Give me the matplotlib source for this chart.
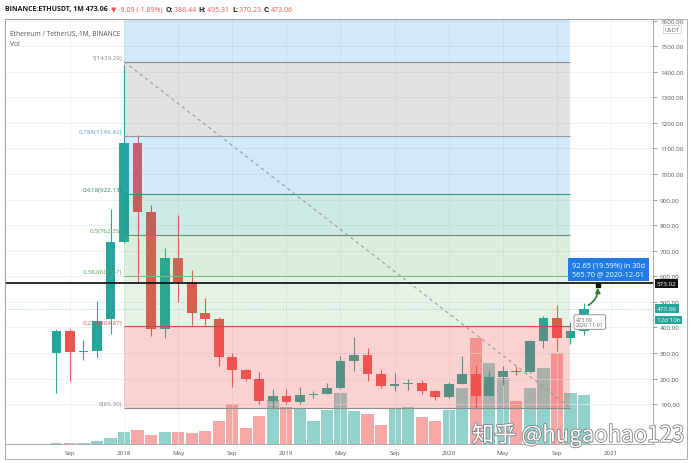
import numpy as np
import pandas as pd
import matplotlib
matplotlib.use('Agg')
import matplotlib.pyplot as plt
import matplotlib.patheffects as pe
from matplotlib.patches import Rectangle

plt.rcParams['font.family'] = ['Open Sans', 'DejaVu Sans']

# monthly candles, Aug 2017 .. Nov 2020
months = pd.date_range('2017-08-01', '2020-11-01', freq='MS')
opens = [301, 386, 302, 306, 432, 733, 1121, 851, 395, 670, 577, 455, 433, 283,
         232, 198, 113, 133, 107, 136, 141, 162, 268, 291, 218, 172, 180, 183,
         151, 129, 180, 218, 133, 206, 231, 226, 346, 435, 359, 386.44]
highs = [395, 392, 350, 505, 862, 1425, 1152, 880, 710, 838, 625, 515, 440, 300,
         238, 225, 158, 160, 165, 150, 184, 290, 362, 320, 235, 223, 198, 195,
         155, 186, 288, 252, 228, 248, 250, 349, 445, 488, 420, 495.31]
lows = [145, 190, 272, 280, 373, 729, 575, 365, 360, 500, 410, 410, 250, 167,
        190, 100, 84, 101, 101, 125, 140, 158, 230, 190, 163, 153, 157, 138,
        117, 125, 177, 86, 130, 176, 215, 222, 318, 308, 335, 370.23]
closes = [386, 302, 306, 425, 733, 1121, 851, 395, 670, 577, 455, 433, 283, 232,
          198, 113, 133, 107, 136, 141, 162, 268, 291, 218, 172, 180, 183, 151,
          129, 180, 218, 133, 206, 231, 226, 346, 435, 359, 386, 473.06]
volume = [1.0, 1.0, 1.5, 2.7, 5.7, 12.3, 13.7, 9.3, 11.7, 12.3, 11.0, 12.7, 22.7,
          40.3, 15.7, 27.7, 44.0, 37.0, 35.0, 22.7, 34.3, 51.3, 33.0, 29.7, 19.0,
          36.3, 37.3, 27.3, 23.3, 34.0, 56.3, 105.7, 80.7, 65.7, 43.0, 55.7, 76.3,
          91.3, 50.7, 49.0]

# fib retracement drawn from Jan 2018 to Oct 2020
fib_levels = [0, 0.236, 0.382, 0.5, 0.618, 0.786, 1, 1.618]
fib_prices = [85.30, 404.87, 602.57, 762.35, 922.13, 1149.42, 1439.29, 2276.65]
fib_start, fib_end = '2018-01-01', '2020-10-01'

tick_dates = ['2017-09-01', '2018-01-01', '2018-05-01', '2018-09-01', '2019-01-01',
              '2019-05-01', '2019-09-01', '2020-01-01', '2020-05-01', '2020-09-01',
              '2021-01-01']
tick_labels = ['Sep', '2018', 'May', 'Sep', '2019', 'May', 'Sep', '2020', 'May',
               'Sep', '2021']

hline_price = 573.02
last_price = 473.06
target_price = 565.70
source_price = 473.09

UP, DOWN = '#26a69a', '#ef5350'


def month_pos(d):
    d = pd.Timestamp(d)
    return (d.year - months[0].year) * 12 + d.month - months[0].month


W, H = 695, 464
fig = plt.figure(figsize=(W / 100, H / 100), dpi=100)
ax = fig.add_axes([5 / W, 19 / H, 648 / W, 425 / H])
axv = ax.twinx()
ax.set_zorder(axv.get_zorder() + 1)
ax.patch.set_visible(False)

x = np.arange(len(months))
up = np.array(closes) >= np.array(opens)

# volume
axv.bar(x, volume, width=0.9, color=np.where(up, UP, DOWN), alpha=0.5, lw=0)
axv.set_ylim(0, 425)
axv.set_yticks([])
for s in axv.spines.values():
    s.set_visible(False)

# candles
for i in x:
    c = UP if up[i] else DOWN
    ax.vlines(i, lows[i], highs[i], color=c, lw=0.8, zorder=2)
    lo, hi = min(opens[i], closes[i]), max(opens[i], closes[i])
    ax.bar(i, max(hi - lo, 4), bottom=lo, width=0.72, color=c, lw=0, zorder=2)

# fib zones
x0, x1 = month_pos(fib_start), month_pos(fib_end)
zone_colors = ['#ef5350', '#4caf50', '#4caf50', '#089981', '#2196f3', '#787b86', '#2196f3']
zone_alpha = [0.26, 0.14, 0.2, 0.2, 0.2, 0.22, 0.2]
for k in range(len(zone_colors)):
    ax.fill_between([x0, x1], fib_prices[k], fib_prices[k + 1],
                    color=zone_colors[k], alpha=zone_alpha[k], lw=0, zorder=3)
line_colors = ['#8a8a8a', '#c0504d', '#7cb87e', '#6a8a6a', '#3f8f80', '#9a9a9a', '#8a8a8a']
label_colors = ['#888888', '#e05a5a', '#5aa35d', '#4f9a52', '#2f7f72', '#5b9bd5', '#888888']
for k in range(7):
    ax.hlines(fib_prices[k], x0, x1, color=line_colors[k], lw=0.8, zorder=4)
    lab = '%g(%.2f)' % (fib_levels[k], fib_prices[k])
    ax.text(x0 - 0.15, fib_prices[k] + 6, lab, ha='right', va='bottom',
            fontsize=4.5, color=label_colors[k], zorder=5)
ax.plot([x0, x1], [fib_prices[6], fib_prices[0]], ls=(0, (3, 3)), color='#9a9a9a',
        lw=0.8, zorder=4)

# horizontal level and last price
ax.axhline(hline_price, color='#1a1a1a', lw=1.3, zorder=5)
ax.axhline(last_price, color=UP, lw=0.6, ls=(0, (1, 2)), alpha=0.6, zorder=1)

# forecast
fx = month_pos('2020-11-01')
tx = month_pos('2020-12-01')
ax.annotate('', xy=(tx, target_price), xytext=(fx + 0.15, last_price + 8),
            arrowprops=dict(arrowstyle='-|>', color='#2e7d32', lw=1.2,
                            connectionstyle='arc3,rad=0.35', mutation_scale=7),
            zorder=6)
ax.plot(tx, target_price, marker='s', ms=3, color='#111111', zorder=7)
ax.text(x1 + 0.1, 628, '92.65 (19.59%) in 30d\n565.70 @ 2020-12-01', ha='left',
        va='center', fontsize=5.3, color='white', linespacing=1.3, zorder=8,
        clip_on=False,
        bbox=dict(boxstyle='square,pad=0.5', fc='#1e7be6', ec='none'))
ax.text(fx - 0.6, 421, '%.2f\n2020-11-01' % source_price, ha='left', va='center',
        fontsize=3.9, color='#666666', linespacing=1.2, zorder=8,
        bbox=dict(boxstyle='round,pad=0.35', fc='white', ec='#888888', lw=0.6))

# axes
ax.set_xlim(-3.8, 44.1)
ax.set_ylim(-56, 1606)
ax.yaxis.tick_right()
ax.set_yticks(np.arange(100, 1700, 100))
ax.set_yticklabels(['%.2f' % v for v in np.arange(100, 1700, 100)])
ax.tick_params(axis='y', length=3, width=0.5, pad=2, labelsize=4.5,
               colors='#777777', labelcolor='#555555')
ax.set_xticks([month_pos(d) for d in tick_dates])
ax.set_xticklabels(tick_labels)
ax.tick_params(axis='x', length=0, pad=4, labelsize=4.5, labelcolor='#555555')
ax.grid(color='#ececec', lw=0.5)
ax.set_axisbelow(True)
for s in ax.spines.values():
    s.set_color('#a0a0a0')
    s.set_linewidth(0.6)

# price axis tags
yt = ax.get_yaxis_transform()
ax.text(1.006, hline_price, '%.2f' % hline_price, transform=yt, fontsize=4.5,
        color='white', va='center', ha='left', clip_on=False, zorder=9,
        bbox=dict(boxstyle='square,pad=0.3', fc='#111111', ec='none'))
ax.text(1.006, last_price, '%.2f' % last_price, transform=yt, fontsize=4.5,
        color='white', va='center', ha='left', clip_on=False, zorder=9,
        bbox=dict(boxstyle='square,pad=0.3', fc=UP, ec='none'))
ax.text(1.006, last_price - 44, '12d 10h', transform=yt, fontsize=4.5,
        color='white', va='center', ha='left', clip_on=False, zorder=9,
        bbox=dict(boxstyle='square,pad=0.3', fc=UP, ec='none'))
fig.text(672 / W, 1 - 30 / H, 'USDT', fontsize=4.2, color='#666666', ha='center',
         va='center', bbox=dict(boxstyle='square,pad=0.25', fc='white', ec='#cccccc', lw=0.5))

# outer frame
fig.patches.append(Rectangle((5 / W, 4 / H), 682 / W, 440 / H, transform=fig.transFigure,
                             fill=False, ec='#a0a0a0', lw=0.6))

# legend in pane
ax.text(0.008, 0.975, 'Ethereum / TetherUS, 1M, BINANCE', transform=ax.transAxes,
        fontsize=4.8, color='#555555', va='top', zorder=1)
ax.text(0.008, 0.95, 'Vol', transform=ax.transAxes, fontsize=4.8, color='#555555',
        va='top', zorder=1)

# header line
pieces = [('BINANCE:ETHUSDT, 1M 473.06 ', '#131722', 'bold'),
          ('▼ -9.09 (-1.89%) ', DOWN, 'normal'),
          ('O:', '#131722', 'bold'), ('386.44 ', DOWN, 'normal'),
          ('H:', '#131722', 'bold'), ('495.31 ', DOWN, 'normal'),
          ('L:', '#131722', 'bold'), ('370.23 ', DOWN, 'normal'),
          ('C:', '#131722', 'bold'), ('473.06', DOWN, 'normal')]
renderer = fig.canvas.get_renderer()
hx = 5 / W
for s, c, wgt in pieces:
    t = fig.text(hx, 1 - 10 / H, s, fontsize=5, color=c, weight=wgt, va='center',
                 ha='left')
    bb = t.get_window_extent(renderer)
    hx = bb.x1 / W + 1 / W

# watermark
fig.text(578 / W, 1 - 436 / H, '知乎 @hugaohao123', fontsize=16, color='white',
         ha='center', va='center', family=['Noto Sans CJK SC', 'DejaVu Sans'],
         path_effects=[pe.withStroke(linewidth=1.2, foreground='#808080')])

fig.savefig('out.png', dpi=100)
